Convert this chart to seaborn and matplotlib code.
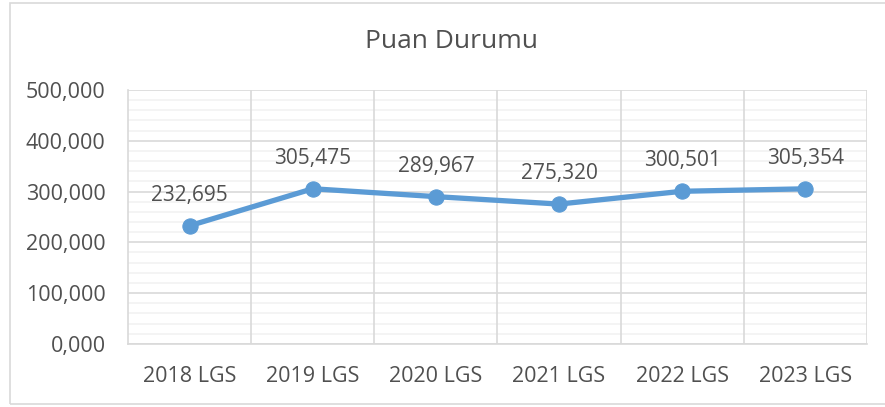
import numpy as np
import pandas as pd
import matplotlib
matplotlib.use("Agg")
import matplotlib.pyplot as plt
import seaborn as sns
from matplotlib.patches import Rectangle
from matplotlib.ticker import FuncFormatter, MultipleLocator

# Dados do gráfico
categorias = ["2018 LGS", "2019 LGS", "2020 LGS", "2021 LGS", "2022 LGS", "2023 LGS"]
puanlar = [232.695, 305.475, 289.967, 275.320, 300.501, 305.354]
titulo = "Puan Durumu"

COR_LINHA = "#5B9BD5"
COR_TEXTO = "#505050"

sns.set_theme(style="white")
plt.rcParams["font.family"] = ["Open Sans", "DejaVu Sans"]

df = pd.DataFrame({"pos": np.arange(len(categorias)), "puan": puanlar})

fig = plt.figure(figsize=(8.85, 4.07), dpi=100)
ax = fig.add_axes([0.1446, 0.155, 0.835, 0.624])

sns.lineplot(data=df, x="pos", y="puan", ax=ax, color=COR_LINHA, linewidth=3.8,
             marker="o", markersize=11, markeredgecolor=COR_LINHA, zorder=3)

# rótulos de dados
for x, y in zip(df["pos"], df["puan"]):
    ax.annotate(f"{y:.3f}".replace(".", ","), (x, y), xytext=(0, 22),
                textcoords="offset points", ha="center", va="center",
                fontsize=15, color=COR_TEXTO)

# eixos
ax.set_xlim(-0.5, len(categorias) - 0.5)
ax.set_ylim(0, 500)
ax.set_xticks(df["pos"])
ax.set_xticklabels(categorias)
ax.yaxis.set_major_locator(MultipleLocator(100))
ax.yaxis.set_minor_locator(MultipleLocator(20))
ax.yaxis.set_major_formatter(FuncFormatter(lambda v, p: f"{v:.3f}".replace(".", ",")))

ax.grid(which="minor", axis="y", color="#F2F2F2", linewidth=1.2)
ax.grid(which="major", axis="y", color="#D9D9D9", linewidth=1.2)
ax.grid(which="major", axis="x", visible=False)
ax.set_axisbelow(True)

# linhas verticais entre categorias
limites = np.arange(len(categorias) + 1) - 0.5
ax.vlines(limites[1:], 0, 500, color="#D9D9D9", linewidth=1.2, zorder=1)

for s in ["top", "right"]:
    ax.spines[s].set_visible(False)
ax.spines["left"].set_color("#D9D9D9")
ax.spines["bottom"].set_color("#D9D9D9")
ax.spines["left"].set_linewidth(1.2)
ax.spines["bottom"].set_linewidth(1.2)

ax.tick_params(axis="both", which="both", length=0, labelsize=15.5, labelcolor=COR_TEXTO)
ax.tick_params(axis="y", pad=16)
ax.tick_params(axis="x", pad=16)
ax.set_xlabel("")
ax.set_ylabel("")

fig.text(0.51, 1 - 42 / 407, titulo, ha="center", va="center", fontsize=19, color=COR_TEXTO)

# borda do gráfico
fig.patches.append(Rectangle((10 / 885, 3 / 407), 1.2, 1 - 6 / 407, transform=fig.transFigure,
                             fill=False, edgecolor="#D9D9D9", linewidth=1.2))

fig.savefig("out.png", dpi=100)
